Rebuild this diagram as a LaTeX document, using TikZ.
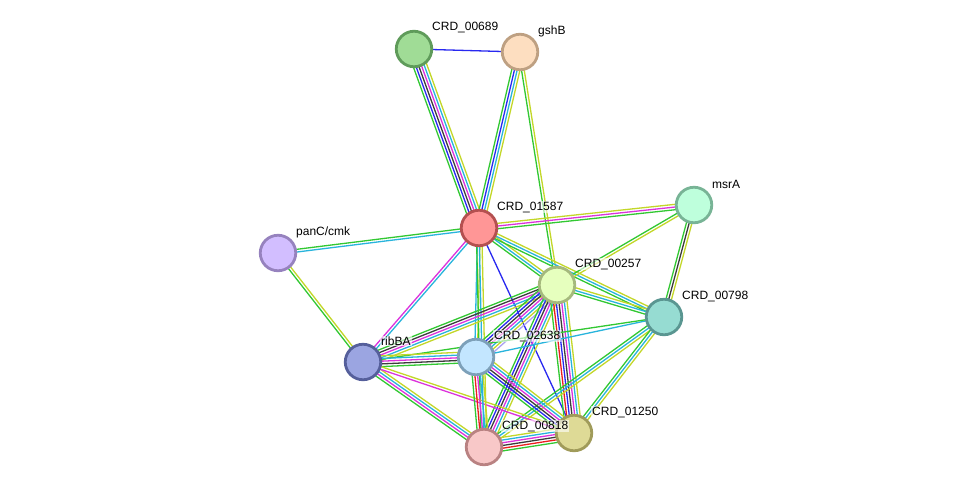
\documentclass[tikz,border=0pt]{standalone}
\usepackage{fontspec}
\setmainfont{Liberation Sans}
\usetikzlibrary{calc,backgrounds}
\definecolor{sgreen}{RGB}{50,200,50}
\definecolor{sred}{RGB}{235,30,30}
\definecolor{sblue}{RGB}{40,40,240}
\definecolor{sblack}{RGB}{60,60,60}
\definecolor{smag}{RGB}{220,50,220}
\definecolor{scyan}{RGB}{40,180,220}
\definecolor{syel}{RGB}{195,215,40}
\definecolor{slav}{RGB}{170,160,240}
\tikzset{
  prot/.style={circle,minimum size=35.5pt,inner sep=0pt,line width=2.8pt},
  lab/.style={anchor=west,font=\fontsize{12}{14}\selectfont,inner sep=1pt,fill=white,fill opacity=0.6,text opacity=1},
  ec/.style={line width=1.3pt},
}
\newcommand\ppiedge[3]{%
  \foreach \cc [count=\ii] in {#3} {\xdef\nlines{\ii}}%
  \foreach \cc [count=\ii] in {#3} {%
    \pgfmathsetmacro\off{(\ii-(\nlines+1)/2)*2.7}%
    \draw[ec,\cc] ($(#1)!\off pt!90:(#2)$) -- ($(#2)!\off pt!-90:(#1)$);
  }}
\begin{document}
\begin{tikzpicture}[x=1pt,y=-1pt]
\useasboundingbox (0,0) rectangle (976,493);
% nodes
\node[prot,fill={rgb,255:red,160;green,220;blue,150},draw={rgb,255:red,95;green,155;blue,90}] (n00689) at (414,49) {};
\node[prot,fill={rgb,255:red,253;green,222;blue,192},draw={rgb,255:red,190;green,160;blue,130}] (gshB) at (520,52) {};
\node[prot,fill={rgb,255:red,255;green,150;blue,150},draw={rgb,255:red,180;green,80;blue,80}] (n01587) at (479,228) {};
\node[prot,fill={rgb,255:red,190;green,255;blue,220},draw={rgb,255:red,120;green,180;blue,150}] (msrA) at (694,205) {};
\node[prot,fill={rgb,255:red,210;green,190;blue,255},draw={rgb,255:red,150;green,130;blue,190}] (panC) at (278,253) {};
\node[prot,fill={rgb,255:red,230;green,255;blue,190},draw={rgb,255:red,165;green,185;blue,125}] (n00257) at (557,285) {};
\node[prot,fill={rgb,255:red,150;green,220;blue,210},draw={rgb,255:red,90;green,150;blue,145}] (n00798) at (664,317) {};
\node[prot,fill={rgb,255:red,155;green,165;blue,225},draw={rgb,255:red,85;green,95;blue,155}] (ribBA) at (363,362) {};
\node[prot,fill={rgb,255:red,195;green,230;blue,255},draw={rgb,255:red,125;green,160;blue,185}] (n02638) at (476,357) {};
\node[prot,fill={rgb,255:red,248;green,200;blue,200},draw={rgb,255:red,185;green,130;blue,130}] (n00818) at (484,447) {};
\node[prot,fill={rgb,255:red,222;green,218;blue,150},draw={rgb,255:red,160;green,155;blue,90}] (n01250) at (574,433) {};
% labels
\node[lab] (l00689) at ($(n00689)+(17,-21)$) {CRD\_00689};
\node[lab] (lgshB) at ($(gshB)+(17,-21)$) {gshB};
\node[lab] (l01587) at ($(n01587)+(17,-21)$) {CRD\_01587};
\node[lab] (lmsrA) at ($(msrA)+(17,-21)$) {msrA};
\node[lab] (lpanC) at ($(panC)+(17,-21)$) {panC/cmk};
\node[lab] (l00257) at ($(n00257)+(17,-21)$) {CRD\_00257};
\node[lab] (l00798) at ($(n00798)+(17,-21)$) {CRD\_00798};
\node[lab] (lribBA) at ($(ribBA)+(17,-21)$) {ribBA};
\node[lab] (l02638) at ($(n02638)+(17,-21)$) {CRD\_02638};
\node[lab] (l00818) at ($(n00818)+(17,-21)$) {CRD\_00818};
\node[lab] (l01250) at ($(n01250)+(17,-21)$) {CRD\_01250};
% edges
\begin{scope}[on background layer]
\fill[white] (0,0) rectangle (976,493);
\ppiedge{n00689}{gshB}{sblue}
\ppiedge{n00689}{n01587}{sgreen,sblue,sblack,smag,scyan,syel}
\ppiedge{gshB}{n01587}{sgreen,sblue,scyan,syel}
\ppiedge{gshB}{n00257}{sgreen,syel}
\ppiedge{n01587}{msrA}{sgreen,smag,syel}
\ppiedge{n01587}{panC}{sgreen,scyan}
\ppiedge{n01587}{n00257}{sgreen,scyan,syel}
\ppiedge{n01587}{n00798}{sgreen,scyan,syel}
\ppiedge{n01587}{ribBA}{smag,scyan}
\ppiedge{n01587}{n02638}{scyan,syel}
\ppiedge{n01587}{n00818}{sgreen,scyan,syel}
\ppiedge{n01587}{n01250}{sblue}
\ppiedge{msrA}{n00257}{sgreen,syel}
\ppiedge{msrA}{n00798}{sgreen,sblack,syel}
\ppiedge{panC}{ribBA}{sgreen,syel}
\ppiedge{n00257}{n00798}{sgreen,scyan,syel}
\ppiedge{n00257}{ribBA}{sgreen,sblack,smag,scyan,syel}
\ppiedge{n00257}{n02638}{sgreen,sblue,sblack,smag,scyan,syel,slav}
\ppiedge{n00257}{n00818}{sgreen,sblue,sblack,smag,scyan,syel}
\ppiedge{n00257}{n01250}{sgreen,sred,sblue,sblack,smag,scyan,syel}
\ppiedge{n02638}{n00798}{scyan}
\ppiedge{ribBA}{n00798}{sgreen}
\ppiedge{n00798}{n00818}{sgreen,scyan,syel}
\ppiedge{n00798}{n01250}{sgreen,scyan,syel}
\ppiedge{ribBA}{n02638}{sgreen,sblack,smag,scyan,syel}
\ppiedge{ribBA}{n00818}{sgreen,smag,scyan,syel}
\ppiedge{ribBA}{n01250}{smag,syel}
\ppiedge{n02638}{n00818}{sgreen,sred,smag,scyan,syel}
\ppiedge{n02638}{n01250}{sgreen,sblue,sblack,smag,scyan,syel}
\ppiedge{n00818}{n01250}{sgreen,sred,sblack,smag,scyan,syel}
\end{scope}
\end{tikzpicture}
\end{document}
